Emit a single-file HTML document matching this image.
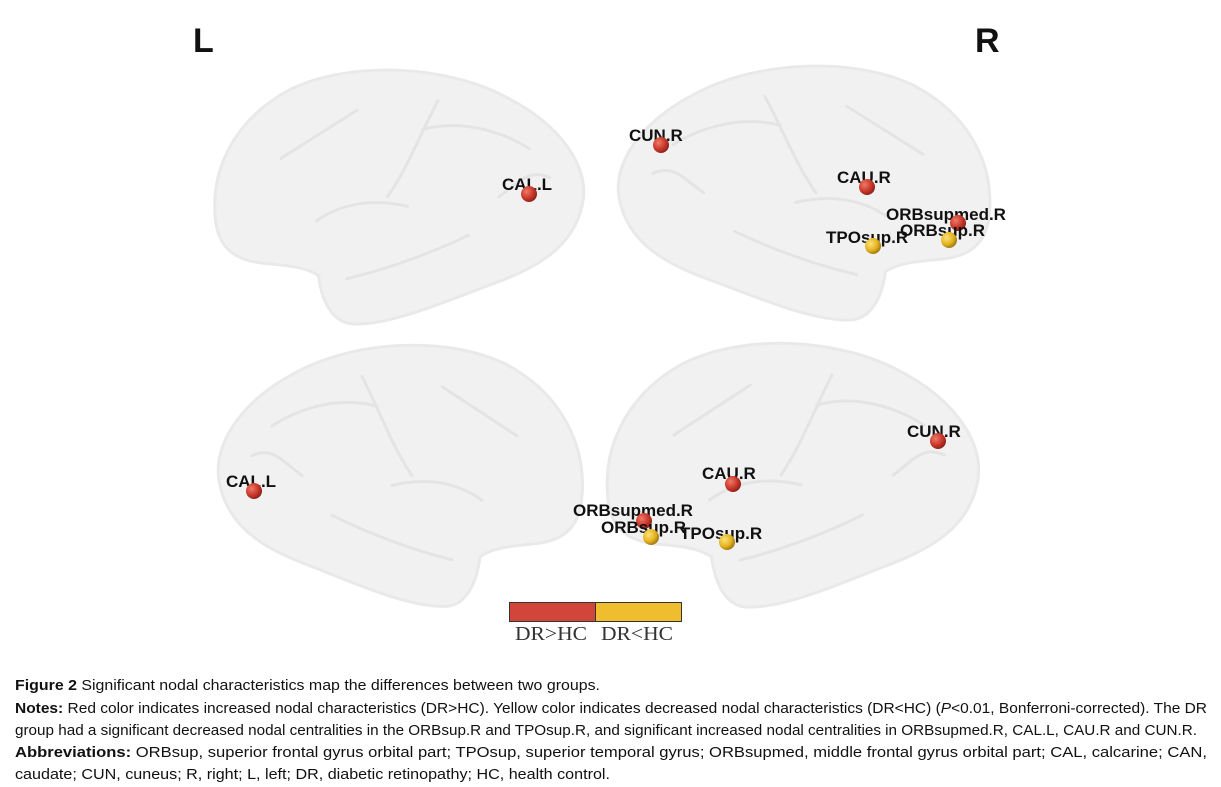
<!DOCTYPE html>
<html><head><meta charset="utf-8"><style>
html,body{margin:0;padding:0;background:#fff;}
svg{display:block;}
.lbl{font-family:"Liberation Sans",Arial,sans-serif;font-weight:bold;font-size:17px;fill:#111;}
.cap{font-family:"Liberation Sans",sans-serif;font-size:14.5px;fill:#111;}
</style></head><body>
<svg width="1221" height="787" viewBox="0 0 1221 787" xmlns="http://www.w3.org/2000/svg">
<defs>
<radialGradient id="rd" cx="0.35" cy="0.35" r="0.7"><stop offset="0" stop-color="#ef7a66"/><stop offset="0.6" stop-color="#c9382c"/><stop offset="1" stop-color="#8a1f18"/></radialGradient>
<radialGradient id="yl" cx="0.35" cy="0.35" r="0.7"><stop offset="0" stop-color="#fbe37a"/><stop offset="0.6" stop-color="#e5b420"/><stop offset="1" stop-color="#9c7410"/></radialGradient>
<g id="brain">
<path d="M8,150 C-2,110 30,65 80,38 C140,3 235,-2 295,28 C350,58 374,110 370,160 C368,192 352,206 322,209 C300,211 280,213 268,222 C265,247 255,270 235,272 C200,274 150,252 100,232 C58,216 18,196 8,150 Z" fill="#f1f1f1" stroke="#e9e9e9" stroke-width="3"/>
<g fill="none" stroke="#e4e4e4" stroke-width="3" stroke-linecap="round">
<path d="M60,90 C90,70 130,60 165,70"/>
<path d="M150,40 C170,80 180,110 200,140"/>
<path d="M230,50 C260,70 290,90 305,100"/>
<path d="M180,150 C220,140 250,150 270,165"/>
<path d="M120,180 C160,200 200,215 240,225"/>
<path d="M40,120 C60,110 70,125 90,140"/>
</g>
</g>
</defs>
<use href="#brain" transform="translate(590,62) scale(-1.013,0.963)"/>
<use href="#brain" transform="translate(612,58) scale(1.02,0.963)"/>
<use href="#brain" transform="translate(212,337) scale(1,0.99)"/>
<use href="#brain" transform="translate(985,335) scale(-1.02,1)"/>

<text x="193" y="52" font-family="Liberation Sans,Arial,sans-serif" font-weight="bold" font-size="34" fill="#111">L</text>
<text x="975" y="52" font-family="Liberation Sans,Arial,sans-serif" font-weight="bold" font-size="34" fill="#111">R</text>

<text class="lbl" x="502" y="190">CAL.L</text><circle cx="529" cy="194" r="8" fill="url(#rd)"/>
<text class="lbl" x="629" y="141">CUN.R</text><circle cx="661" cy="145" r="8" fill="url(#rd)"/>
<text class="lbl" x="837" y="183">CAU.R</text><circle cx="867" cy="187" r="8" fill="url(#rd)"/>
<text class="lbl" x="886" y="220">ORBsupmed.R</text><circle cx="958" cy="223" r="8" fill="url(#rd)"/>
<text class="lbl" x="826" y="243">TPOsup.R</text><circle cx="873" cy="246" r="8" fill="url(#yl)"/>
<text class="lbl" x="900" y="236">ORBsup.R</text><circle cx="949" cy="240" r="8" fill="url(#yl)"/>
<text class="lbl" x="907" y="437">CUN.R</text><circle cx="938" cy="441" r="8" fill="url(#rd)"/>
<text class="lbl" x="226" y="487">CAL.L</text><circle cx="254" cy="491" r="8" fill="url(#rd)"/>
<text class="lbl" x="702" y="479">CAU.R</text><circle cx="733" cy="484" r="8" fill="url(#rd)"/>
<text class="lbl" x="573" y="516">ORBsupmed.R</text><circle cx="644" cy="521" r="8" fill="url(#rd)"/>
<text class="lbl" x="601" y="533">ORBsup.R</text><circle cx="651" cy="537" r="8" fill="url(#yl)"/>
<text class="lbl" x="680" y="539">TPOsup.R</text><circle cx="727" cy="542" r="8" fill="url(#yl)"/>

<rect x="509.5" y="602.5" width="86" height="19" fill="#d2453a" stroke="#333" stroke-width="1"/>
<rect x="595.5" y="602.5" width="86" height="19" fill="#f0bd2f" stroke="#333" stroke-width="1"/>
<text x="515" y="640" font-family="Liberation Serif,serif" font-size="20" fill="#333" textLength="72" lengthAdjust="spacingAndGlyphs">DR&gt;HC</text>
<text x="601" y="640" font-family="Liberation Serif,serif" font-size="20" fill="#333" textLength="72" lengthAdjust="spacingAndGlyphs">DR&lt;HC</text>

<text class="cap" x="15" y="690" textLength="585" lengthAdjust="spacingAndGlyphs"><tspan font-weight="bold">Figure 2</tspan> Significant nodal characteristics map the differences between two groups.</text>
<text class="cap" x="15" y="713" textLength="1192" lengthAdjust="spacingAndGlyphs"><tspan font-weight="bold">Notes:</tspan> Red color indicates increased nodal characteristics (DR&gt;HC). Yellow color indicates decreased nodal characteristics (DR&lt;HC) (<tspan font-style="italic">P</tspan>&lt;0.01, Bonferroni-corrected). The DR</text>
<text class="cap" x="15" y="735" textLength="1182" lengthAdjust="spacingAndGlyphs">group had a significant decreased nodal centralities in the ORBsup.R and TPOsup.R, and significant increased nodal centralities in ORBsupmed.R, CAL.L, CAU.R and CUN.R.</text>
<text class="cap" x="15" y="757" textLength="1192" lengthAdjust="spacingAndGlyphs"><tspan font-weight="bold">Abbreviations:</tspan> ORBsup, superior frontal gyrus orbital part; TPOsup, superior temporal gyrus; ORBsupmed, middle frontal gyrus orbital part; CAL, calcarine; CAN,</text>
<text class="cap" x="15" y="779" textLength="595" lengthAdjust="spacingAndGlyphs">caudate; CUN, cuneus; R, right; L, left; DR, diabetic retinopathy; HC, health control.</text>
</svg>
</body></html>
